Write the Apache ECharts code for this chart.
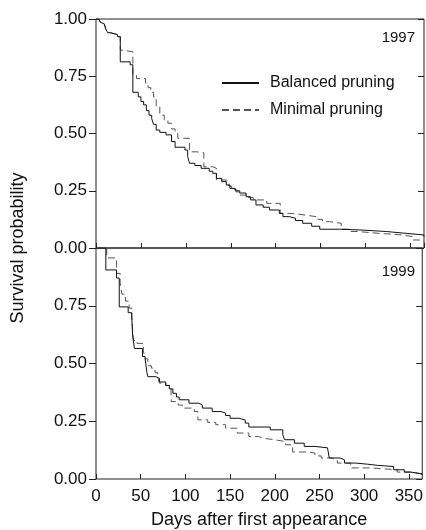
<!DOCTYPE html>
<html>
<head>
<meta charset="utf-8">
<script src="https://cdn.jsdelivr.net/npm/echarts@6/dist/echarts.min.js"></script>
<style>
    html, body { margin: 0; padding: 0; background: #fff; }
    #chart { width: 426px; height: 530px; }
</style>
</head>
<body>
<div id="chart"></div>
<script>
// 存活曲线（Kaplan-Meier），[天数, 存活概率]
var balanced1997 = [[0, 1], [3, 0.993], [5, 0.985], [7, 0.98], [9, 0.974], [11, 0.955], [13, 0.94], [16, 0.932], [24, 0.923], [27, 0.813], [38, 0.80], [41, 0.68], [47, 0.66], [50, 0.64], [53, 0.625], [56, 0.60], [59, 0.58], [62, 0.565], [64, 0.54], [67, 0.515], [71, 0.505], [78, 0.494], [84, 0.465], [88, 0.44], [99, 0.428], [102, 0.40], [104, 0.37], [110, 0.36], [117, 0.348], [126, 0.335], [130, 0.326], [134, 0.304], [140, 0.29], [145, 0.275], [149, 0.26], [155, 0.25], [160, 0.24], [167, 0.224], [172, 0.21], [178, 0.188], [186, 0.178], [193, 0.166], [204, 0.151], [208, 0.137], [215, 0.13], [222, 0.12], [230, 0.108], [240, 0.095], [249, 0.082], [271, 0.079], [293, 0.072], [323, 0.064], [345, 0.057], [365, 0.05]];
var minimal1997 = [[0, 1], [3, 0.993], [5, 0.985], [7, 0.98], [9, 0.974], [11, 0.955], [13, 0.94], [16, 0.932], [24, 0.923], [27, 0.865], [29, 0.857], [41, 0.755], [45, 0.74], [55, 0.72], [58, 0.70], [61, 0.68], [64, 0.66], [67, 0.62], [71, 0.58], [76, 0.56], [80, 0.545], [84, 0.52], [88, 0.50], [91, 0.479], [104, 0.42], [112, 0.416], [120, 0.355], [130, 0.348], [134, 0.297], [145, 0.29], [148, 0.27], [151, 0.255], [156, 0.245], [160, 0.231], [168, 0.22], [175, 0.21], [190, 0.195], [205, 0.151], [215, 0.148], [225, 0.143], [234, 0.137], [245, 0.125], [252, 0.115], [260, 0.108], [273, 0.082], [282, 0.072], [291, 0.064], [315, 0.057], [341, 0.05], [352, 0.035], [360, 0.03], [365, 0.025]];
var balanced1999 = [[0, 1], [11, 0.905], [23, 0.87], [26, 0.745], [36, 0.72], [40, 0.70], [41, 0.62], [43, 0.565], [52, 0.53], [55, 0.52], [57, 0.46], [58, 0.443], [67, 0.436], [71, 0.42], [78, 0.405], [82, 0.39], [86, 0.371], [90, 0.355], [93, 0.343], [104, 0.328], [115, 0.321], [119, 0.307], [130, 0.292], [140, 0.285], [145, 0.275], [150, 0.263], [160, 0.255], [167, 0.242], [171, 0.225], [195, 0.213], [209, 0.191], [211, 0.17], [222, 0.155], [233, 0.141], [245, 0.135], [259, 0.127], [261, 0.091], [273, 0.083], [278, 0.069], [290, 0.064], [304, 0.059], [315, 0.054], [333, 0.04], [345, 0.03], [352, 0.022], [365, 0.017]];
var minimal1999 = [[0, 1], [12, 0.957], [23, 0.89], [27, 0.85], [29, 0.80], [33, 0.77], [37, 0.74], [40, 0.71], [41, 0.64], [42, 0.60], [46, 0.587], [53, 0.555], [55, 0.52], [58, 0.49], [62, 0.48], [66, 0.46], [69, 0.44], [71, 0.415], [78, 0.405], [84, 0.335], [92, 0.32], [97, 0.307], [110, 0.292], [114, 0.256], [125, 0.245], [134, 0.235], [145, 0.22], [158, 0.199], [171, 0.184], [182, 0.177], [186, 0.17], [200, 0.162], [212, 0.148], [220, 0.117], [237, 0.112], [245, 0.10], [252, 0.091], [263, 0.083], [270, 0.069], [285, 0.048], [307, 0.04], [337, 0.03], [352, 0.022], [365, 0.014]];

var seriesNames = ['Balanced pruning', 'Minimal pruning'];
var panelYears = ['1997', '1999'];
var xTitle = 'Days after first appearance';
var yTitle = 'Survival probability';

var FONT = '"Liberation Sans", Arial, sans-serif';
var solidStyle = {color: '#111', width: 1, type: 'solid'};
var dashStyle = {color: '#555', width: 1, type: [7, 4]};

var chart = echarts.init(document.getElementById('chart'), null, {renderer: 'canvas'});

function xAxisFor(idx, showLabels) {
    return {
        gridIndex: idx,
        type: 'value',
        min: 0,
        max: 365,
        interval: 50,
        axisLine: {show: false},
        axisTick: {show: true, inside: true, length: 5, lineStyle: {color: '#222'}},
        splitLine: {show: false},
        axisLabel: {
            show: showLabels,
            margin: 9,
            fontSize: 17,
            fontFamily: FONT,
            color: '#111',
            showMaxLabel: false
        },
        name: showLabels ? xTitle : '',
        nameLocation: 'middle',
        nameGap: 32,
        nameTextStyle: {fontSize: 18, fontFamily: FONT, color: '#111'}
    };
}

function yAxisFor(idx, hideTop) {
    return {
        gridIndex: idx,
        type: 'value',
        min: 0,
        max: 1,
        interval: 0.25,
        axisLine: {show: false},
        axisTick: {show: true, inside: false, length: 7, lineStyle: {color: '#222'}},
        splitLine: {show: false},
        axisLabel: {
            margin: 9,
            fontSize: 17,
            fontFamily: FONT,
            color: '#111',
            formatter: function(v) {
                if (hideTop && v === 1) {
                    return '';
                }
                return v.toFixed(2);
            }
        }
    };
}

function rightAxisFor(idx) {
    return {
        gridIndex: idx,
        type: 'value',
        position: 'right',
        min: 0,
        max: 1,
        interval: 0.25,
        axisLine: {show: false},
        axisTick: {show: true, inside: true, length: 6, lineStyle: {color: '#222'}},
        axisLabel: {show: false},
        splitLine: {show: false}
    };
}

var option = {
    animation: false,
    backgroundColor: '#fff',
    textStyle: {fontFamily: FONT},
    grid: [
        {left: 96, top: 19, width: 328, height: 229, show: true, borderColor: '#222', borderWidth: 1},
        {left: 96, top: 248, width: 328, height: 231, show: true, borderColor: '#222', borderWidth: 1}
    ],
    xAxis: [xAxisFor(0, false), xAxisFor(1, true)],
    yAxis: [yAxisFor(0, false), yAxisFor(1, true), rightAxisFor(0), rightAxisFor(1)],
    legend: {
        orient: 'vertical',
        left: 221,
        top: 75,
        padding: 0,
        itemWidth: 37,
        itemHeight: 14,
        itemGap: 11,
        itemStyle: {opacity: 0},
        data: seriesNames,
        textStyle: {fontSize: 16, fontFamily: FONT, color: '#111', padding: [0, 0, 0, 6]}
    },
    graphic: [
        {type: 'text', right: 11, top: 30, style: {text: panelYears[0], fontSize: 15, fontFamily: FONT, fill: '#111'}},
        {type: 'text', right: 11, top: 264, style: {text: panelYears[1], fontSize: 15, fontFamily: FONT, fill: '#111'}},
        {
            type: 'text',
            x: 18,
            y: 248,
            rotation: Math.PI / 2,
            style: {text: yTitle, fontSize: 18, fontFamily: FONT, fill: '#111', align: 'center', verticalAlign: 'middle'}
        }
    ],
    series: [
        {name: seriesNames[0], type: 'line', step: 'end', xAxisIndex: 0, yAxisIndex: 0, showSymbol: false, symbol: 'none', lineStyle: solidStyle, itemStyle: {color: solidStyle.color}, data: balanced1997, z: 3},
        {name: seriesNames[1], type: 'line', step: 'end', xAxisIndex: 0, yAxisIndex: 0, showSymbol: false, symbol: 'none', lineStyle: dashStyle, itemStyle: {color: dashStyle.color}, data: minimal1997, z: 2},
        {name: seriesNames[0], type: 'line', step: 'end', xAxisIndex: 1, yAxisIndex: 1, showSymbol: false, symbol: 'none', lineStyle: solidStyle, itemStyle: {color: solidStyle.color}, data: balanced1999, z: 3},
        {name: seriesNames[1], type: 'line', step: 'end', xAxisIndex: 1, yAxisIndex: 1, showSymbol: false, symbol: 'none', lineStyle: dashStyle, itemStyle: {color: dashStyle.color}, data: minimal1999, z: 2}
    ]
};

chart.setOption(option);
</script>
</body>
</html>
